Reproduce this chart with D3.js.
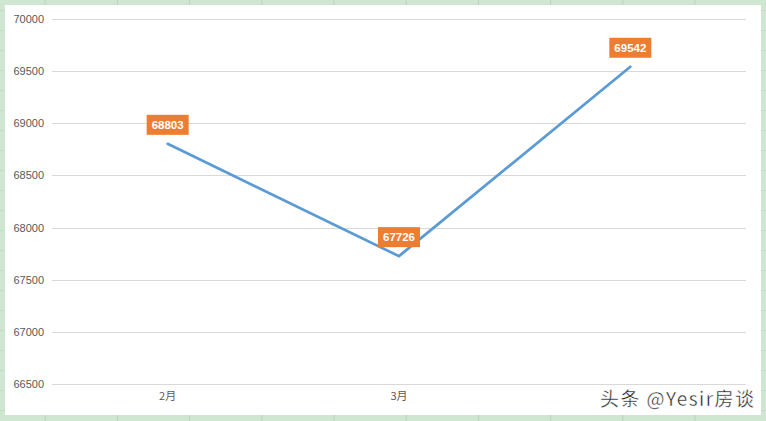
<!DOCTYPE html>
<html><head><meta charset="utf-8">
<script src="https://cdn.jsdelivr.net/npm/d3@7"></script>
<style>body{margin:0;background:#cfe6d1;overflow:hidden}svg{display:block}</style>
</head><body><svg id="c" width="766" height="421"></svg>
<script>
const categories = ["2月", "3月", "4月"];
const values = [68803, 67726, 69542];
const yTicks = [66500, 67000, 67500, 68000, 68500, 69000, 69500, 70000];
const hiddenCategoryLabels = ["4月"]; // covered by the watermark in the original

const svg = d3.select("#c");
// spreadsheet background grid
const bg = svg.append("g");
const colXs = d3.range(-27, 800, 72.2);
bg.selectAll("line.v").data(colXs).join("line")
  .attr("x1", d => d).attr("x2", d => d).attr("y1", 0).attr("y2", 421)
  .attr("stroke", "#b9d4bc").attr("stroke-width", 1);
bg.selectAll("line.h").data(d3.range(10, 421, 20)).join("line")
  .attr("x1", 0).attr("x2", 766).attr("y1", d => d + 0.5).attr("y2", d => d + 0.5)
  .attr("stroke", "#c2dcc5").attr("stroke-width", 1);

svg.append("rect").attr("x", 5).attr("y", 5).attr("width", 756).attr("height", 410).attr("fill", "#fff");

const x = d3.scaleBand().domain(categories).range([52, 746]);
const y = d3.scaleLinear().domain([66500, 70000]).range([384, 19]);

const grid = svg.append("g");
grid.selectAll("line").data(yTicks).join("line")
  .attr("x1", 52).attr("x2", 746)
  .attr("y1", d => Math.round(y(d)) + 0.5).attr("y2", d => Math.round(y(d)) + 0.5)
  .attr("stroke", "#d9d9d9").attr("stroke-width", 1);

const yAxis = d3.axisLeft(y).tickValues(yTicks).tickSize(0).tickPadding(8).tickFormat(d3.format("d"));
const ya = svg.append("g").attr("transform", "translate(52,0)").call(yAxis);
ya.select(".domain").remove();
ya.selectAll("text").attr("fill", "#595959").style("font-family", "'Liberation Sans', Arial, sans-serif").style("font-size", "11px");

const xAxis = d3.axisBottom(x).tickSize(0).tickPadding(8)
  .tickFormat(d => hiddenCategoryLabels.includes(d) ? "" : d);
const xa = svg.append("g").attr("transform", "translate(0,384)").call(xAxis);
xa.select(".domain").remove();
xa.selectAll("text").attr("fill", "#595959").style("font-family", "'Noto Sans CJK SC', sans-serif").style("font-size", "11px");

const line = d3.line().x((d, i) => x(categories[i]) + x.bandwidth() / 2).y(d => y(d));
svg.append("path").datum(values).attr("d", line)
  .attr("fill", "none").attr("stroke", "#5b9bd5").attr("stroke-width", 2.75).attr("stroke-linecap", "round");

const lab = svg.append("g").selectAll("g").data(values).join("g")
  .attr("transform", (d, i) => `translate(${x(categories[i]) + x.bandwidth() / 2},${y(d) - 19})`);
lab.append("rect").attr("x", -21).attr("y", -10).attr("width", 42).attr("height", 20).attr("fill", "#ed7d31");
lab.append("text").text(d => d).attr("text-anchor", "middle").attr("dy", "0.36em")
  .attr("fill", "#fff").style("font-family", "'Liberation Sans', Arial, sans-serif").style("font-size", "11.5px").style("font-weight", "bold");

// watermark
svg.append("rect").attr("x", 596).attr("y", 385).attr("width", 165).attr("height", 28).attr("fill", "#fff");
svg.append("text").attr("x", 600).attr("y", 406).text("头条 @Yesir房谈")
  .attr("fill", "#222").attr("stroke", "#fff").attr("stroke-width", 0.4)
  .attr("textLength", 154).attr("lengthAdjust", "spacing")
  .style("font-family", "'Noto Sans CJK SC', sans-serif").style("font-size", "19px");
</script></body></html>
